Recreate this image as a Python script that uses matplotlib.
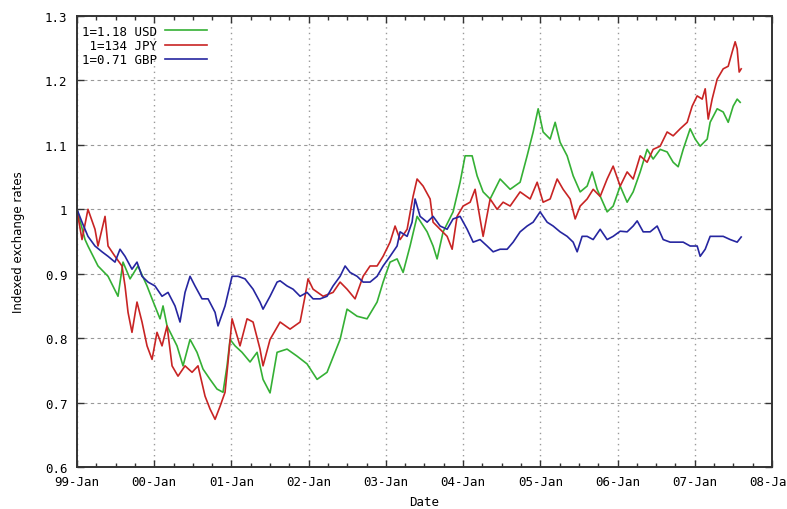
import matplotlib
matplotlib.use("Agg")
import matplotlib.pyplot as plt
from matplotlib.ticker import FixedLocator, MultipleLocator

# time axis: years since Jan 1999
usd_t = [0.0, 0.104, 0.142, 0.272, 0.402, 0.531, 0.596, 0.687, 0.790, 0.907,
         0.972, 1.075, 1.114, 1.166, 1.295, 1.373, 1.464, 1.554, 1.632, 1.723,
         1.813, 1.891, 1.943, 1.982, 2.047, 2.137, 2.241, 2.332, 2.409, 2.500,
         2.591, 2.720, 2.850, 2.979, 3.109, 3.238, 3.407, 3.497, 3.627, 3.756,
         3.886, 3.964, 4.054, 4.145, 4.223, 4.313, 4.404, 4.534, 4.611, 4.663,
         4.741, 4.870, 4.961, 5.026, 5.117, 5.181, 5.259, 5.350, 5.479, 5.609,
         5.738, 5.829, 5.907, 5.972, 6.036, 6.127, 6.192, 6.256, 6.347, 6.425,
         6.516, 6.606, 6.671, 6.736, 6.865, 6.943, 7.034, 7.124, 7.202, 7.293,
         7.383, 7.461, 7.552, 7.642, 7.720, 7.785, 7.850, 7.940, 8.005, 8.070,
         8.161, 8.199, 8.290, 8.368, 8.433, 8.497, 8.549, 8.588]
usd = [1.0, 0.953, 0.943, 0.912, 0.896, 0.865, 0.918, 0.892, 0.912, 0.881,
       0.861, 0.830, 0.850, 0.819, 0.788, 0.757, 0.798, 0.778, 0.752, 0.736,
       0.721, 0.716, 0.757, 0.798, 0.788, 0.778, 0.763, 0.778, 0.736, 0.715,
       0.778, 0.783, 0.772, 0.760, 0.736, 0.747, 0.798, 0.845, 0.834, 0.830,
       0.856, 0.887, 0.918, 0.923, 0.902, 0.943, 0.989, 0.965, 0.943, 0.923,
       0.965, 0.996, 1.042, 1.083, 1.083, 1.052, 1.027, 1.016, 1.047, 1.031,
       1.042, 1.083, 1.120, 1.156, 1.120, 1.109, 1.135, 1.104, 1.083, 1.052,
       1.027, 1.036, 1.058, 1.031, 0.996, 1.005, 1.036, 1.011, 1.027, 1.058,
       1.093, 1.078, 1.093, 1.089, 1.073, 1.066, 1.093, 1.125, 1.109, 1.098,
       1.109, 1.135, 1.156, 1.151, 1.135, 1.160, 1.171, 1.166]

jpy_t = [0.0, 0.013, 0.065, 0.142, 0.233, 0.272, 0.363, 0.402, 0.492, 0.583,
         0.622, 0.661, 0.712, 0.777, 0.842, 0.907, 0.972, 1.036, 1.101, 1.166,
         1.231, 1.308, 1.399, 1.490, 1.567, 1.658, 1.723, 1.788, 1.852, 1.917,
         1.956, 2.008, 2.047, 2.111, 2.202, 2.280, 2.370, 2.409, 2.500, 2.630,
         2.759, 2.889, 2.953, 2.992, 3.057, 3.187, 3.316, 3.407, 3.497, 3.601,
         3.705, 3.795, 3.886, 3.964, 4.054, 4.119, 4.184, 4.275, 4.352, 4.404,
         4.482, 4.573, 4.611, 4.702, 4.793, 4.858, 4.922, 5.0, 5.091, 5.155,
         5.220, 5.259, 5.350, 5.440, 5.518, 5.609, 5.738, 5.868, 5.959, 6.036,
         6.127, 6.218, 6.295, 6.386, 6.451, 6.516, 6.606, 6.684, 6.775, 6.865,
         6.943, 7.034, 7.124, 7.202, 7.293, 7.383, 7.461, 7.552, 7.642, 7.720,
         7.811, 7.902, 7.966, 8.031, 8.096, 8.135, 8.174, 8.225, 8.290, 8.368,
         8.433, 8.484, 8.523, 8.549, 8.575, 8.601]
jpy = [1.0, 0.989, 0.953, 1.0, 0.969, 0.943, 0.989, 0.943, 0.927, 0.912,
       0.881, 0.840, 0.809, 0.856, 0.825, 0.788, 0.767, 0.809, 0.788, 0.819,
       0.757, 0.741, 0.757, 0.747, 0.757, 0.710, 0.690, 0.674, 0.694, 0.716,
       0.763, 0.830, 0.814, 0.788, 0.830, 0.825, 0.783, 0.757, 0.798, 0.825,
       0.814, 0.825, 0.865, 0.892, 0.876, 0.865, 0.871, 0.887, 0.876, 0.861,
       0.896, 0.912, 0.912, 0.927, 0.949, 0.974, 0.953, 0.969, 1.020, 1.047,
       1.036, 1.016, 0.980, 0.969, 0.958, 0.938, 0.989, 1.005, 1.011, 1.031,
       0.985, 0.958, 1.016, 1.0, 1.011, 1.005, 1.027, 1.016, 1.042, 1.011,
       1.016, 1.047, 1.031, 1.016, 0.985, 1.005, 1.016, 1.031, 1.020, 1.047,
       1.067, 1.036, 1.058, 1.047, 1.083, 1.073, 1.093, 1.098, 1.120, 1.114,
       1.125, 1.135, 1.160, 1.176, 1.171, 1.187, 1.140, 1.171, 1.202, 1.218,
       1.222, 1.244, 1.260, 1.249, 1.213, 1.218]

gbp_t = [0.0, 0.065, 0.142, 0.233, 0.324, 0.402, 0.492, 0.557, 0.622, 0.712,
         0.777, 0.842, 0.920, 1.010, 1.101, 1.179, 1.269, 1.334, 1.399, 1.464,
         1.528, 1.619, 1.697, 1.788, 1.826, 1.917, 2.008, 2.085, 2.176, 2.280,
         2.370, 2.409, 2.500, 2.591, 2.630, 2.720, 2.798, 2.889, 2.979, 3.057,
         3.148, 3.238, 3.316, 3.407, 3.472, 3.536, 3.627, 3.705, 3.795, 3.886,
         3.964, 4.054, 4.145, 4.184, 4.275, 4.339, 4.378, 4.443, 4.534, 4.611,
         4.702, 4.793, 4.870, 4.961, 5.052, 5.130, 5.220, 5.311, 5.389, 5.479,
         5.570, 5.648, 5.738, 5.829, 5.907, 5.997, 6.088, 6.166, 6.256, 6.347,
         6.425, 6.477, 6.541, 6.606, 6.684, 6.775, 6.865, 6.943, 7.034, 7.124,
         7.202, 7.254, 7.332, 7.422, 7.513, 7.591, 7.681, 7.772, 7.850, 7.940,
         8.031, 8.070, 8.135, 8.199, 8.290, 8.368, 8.459, 8.549, 8.601]
gbp = [1.0, 0.980, 0.958, 0.943, 0.934, 0.927, 0.918, 0.938, 0.927, 0.907,
       0.918, 0.896, 0.887, 0.881, 0.865, 0.871, 0.850, 0.825, 0.871, 0.896,
       0.881, 0.861, 0.861, 0.840, 0.819, 0.850, 0.896, 0.896, 0.892, 0.876,
       0.856, 0.845, 0.865, 0.887, 0.889, 0.881, 0.876, 0.865, 0.871, 0.861,
       0.861, 0.865, 0.881, 0.896, 0.912, 0.902, 0.896, 0.887, 0.887, 0.896,
       0.912, 0.927, 0.943, 0.965, 0.958, 0.980, 1.016, 0.989, 0.980, 0.989,
       0.974, 0.969, 0.985, 0.989, 0.969, 0.949, 0.953, 0.943, 0.934, 0.938,
       0.938, 0.949, 0.965, 0.974, 0.980, 0.996, 0.980, 0.974, 0.965, 0.958,
       0.949, 0.934, 0.958, 0.958, 0.953, 0.969, 0.953, 0.958, 0.966, 0.965,
       0.974, 0.982, 0.965, 0.965, 0.974, 0.953, 0.949, 0.949, 0.949, 0.943,
       0.943, 0.927, 0.938, 0.958, 0.958, 0.958, 0.953, 0.949, 0.957]

x_tick_labels = ['99-Jan', '00-Jan', '01-Jan', '02-Jan', '03-Jan',
                 '04-Jan', '05-Jan', '06-Jan', '07-Jan', '08-Jan']
y_ticks = [0.6, 0.7, 0.8, 0.9, 1.0, 1.1, 1.2, 1.3]
y_tick_labels = ['0.6', '0.7', '0.8', '0.9', '1', '1.1', '1.2', '1.3']
labels = ['1=1.18 USD', ' 1=134 JPY', '1=0.71 GBP']
colors = ['#35b035', '#c82424', '#2626a0']

mono = 'DejaVu Sans Mono'

fig = plt.figure(figsize=(7.87, 5.10), dpi=100)
ax = fig.add_axes([77 / 787, 42 / 510, 695 / 787, 451 / 510])

ax.plot(usd_t, usd, color=colors[0], lw=1.2, label=labels[0])
ax.plot(jpy_t, jpy, color=colors[1], lw=1.2, label=labels[1])
ax.plot(gbp_t, gbp, color=colors[2], lw=1.2, label=labels[2])

ax.set_xlim(0, 9)
ax.set_ylim(0.6, 1.3)
ax.xaxis.set_major_locator(FixedLocator(range(len(x_tick_labels))))
ax.xaxis.set_minor_locator(MultipleLocator(0.25))
ax.set_xticklabels(x_tick_labels, fontfamily=mono, fontsize=9)
ax.set_yticks(y_ticks)
ax.set_yticklabels(y_tick_labels, fontfamily=mono, fontsize=9)

ax.tick_params(which='both', direction='in', top=True, right=True, color='#333333')
ax.tick_params(which='major', length=5, width=1)
ax.tick_params(which='minor', length=3, width=1)
ax.tick_params(axis='y', pad=7)
ax.tick_params(axis='x', pad=6)

# gnuplot style grid: dashed horizontals, dotted verticals
ax.xaxis.grid(True, which='major', color='#999999', linestyle=(0, (1, 3)), lw=1.0)
ax.yaxis.grid(True, which='major', color='#999999', linestyle=(0, (3, 3)), lw=0.8)
for s in ax.spines.values():
    s.set_color('#333333')
    s.set_linewidth(1.4)

ax.set_xlabel('Date', fontfamily=mono, fontsize=9, labelpad=5)
ax.set_ylabel('Indexed exchange rates', fontsize=8.5, labelpad=14)

leg = ax.legend(loc='upper left', bbox_to_anchor=(-0.005, 1.0), frameon=False,
                markerfirst=False, handlelength=3.4, handletextpad=0.6,
                labelspacing=0.1, borderaxespad=0.3,
                prop={'family': mono, 'size': 9})

fig.savefig('out.png', dpi=100)
